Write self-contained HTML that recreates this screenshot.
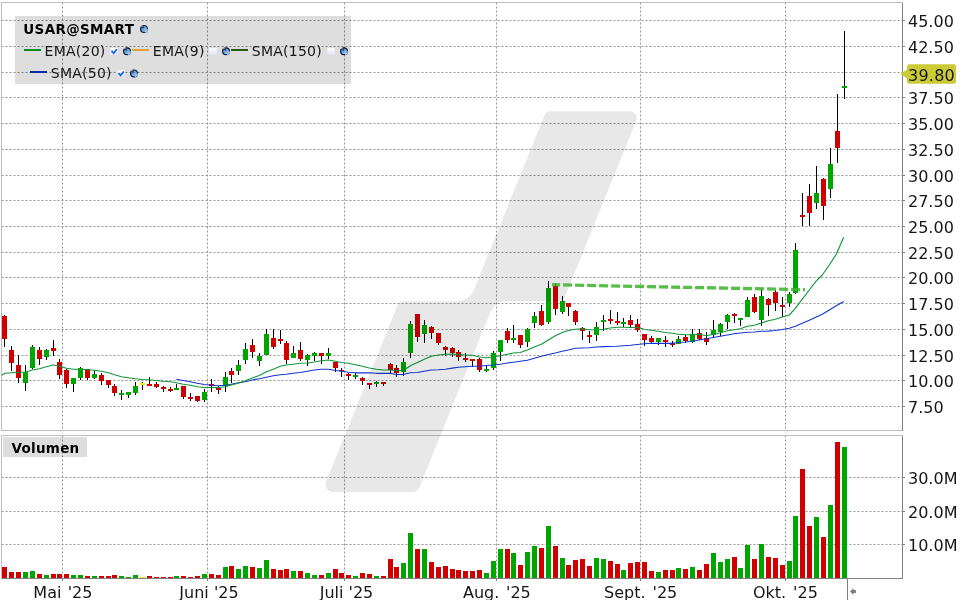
<!DOCTYPE html>
<html lang="de"><head><meta charset="utf-8"><title>USAR@SMART Chart</title>
<style>html,body{margin:0;padding:0;background:#fff;}body{width:960px;height:600px;overflow:hidden;}svg{display:block;will-change:transform;}text{font-family:"DejaVu Sans","Liberation Sans",sans-serif;fill:#161616;}.ax{font-size:16px;}.lg{font-size:14px;letter-spacing:0.25px;}.b{font-weight:bold;fill:#000;font-size:13.5px;letter-spacing:0.33px;}.g{stroke:#949494;stroke-width:1;stroke-dasharray:2 2;fill:none;}.c rect{shape-rendering:crispEdges;}</style></head><body>
<svg width="960" height="600" viewBox="0 0 960 600">
<defs><linearGradient id="cb" x1="0" y1="0" x2="0" y2="1"><stop offset="0" stop-color="#fdfdff"/><stop offset="1" stop-color="#e2e2f6"/></linearGradient><linearGradient id="wr" x1="0" y1="0" x2="1" y2="1"><stop offset="0" stop-color="#2c5c9c"/><stop offset="0.55" stop-color="#78aee0"/><stop offset="1" stop-color="#b8e0ff"/></linearGradient></defs>
<rect x="0" y="0" width="960" height="600" fill="#ffffff"/>
<g class="g">
<line x1="1.5" y1="20.5" x2="902" y2="20.5"/>
<line x1="1.5" y1="46.5" x2="902" y2="46.5"/>
<line x1="1.5" y1="72.5" x2="902" y2="72.5"/>
<line x1="1.5" y1="97.5" x2="902" y2="97.5"/>
<line x1="1.5" y1="123.5" x2="902" y2="123.5"/>
<line x1="1.5" y1="149.5" x2="902" y2="149.5"/>
<line x1="1.5" y1="175.5" x2="902" y2="175.5"/>
<line x1="1.5" y1="200.5" x2="902" y2="200.5"/>
<line x1="1.5" y1="226.5" x2="902" y2="226.5"/>
<line x1="1.5" y1="252.5" x2="902" y2="252.5"/>
<line x1="1.5" y1="277.5" x2="902" y2="277.5"/>
<line x1="1.5" y1="303.5" x2="902" y2="303.5"/>
<line x1="1.5" y1="329.5" x2="902" y2="329.5"/>
<line x1="1.5" y1="355.5" x2="902" y2="355.5"/>
<line x1="1.5" y1="380.5" x2="902" y2="380.5"/>
<line x1="1.5" y1="406.5" x2="902" y2="406.5"/>
<line x1="1.5" y1="477.5" x2="902" y2="477.5"/>
<line x1="1.5" y1="511.5" x2="902" y2="511.5"/>
<line x1="1.5" y1="544.5" x2="902" y2="544.5"/>
<line x1="62.5" y1="2.5" x2="62.5" y2="430"/>
<line x1="62.5" y1="435.5" x2="62.5" y2="578"/>
<line x1="207.5" y1="2.5" x2="207.5" y2="430"/>
<line x1="207.5" y1="435.5" x2="207.5" y2="578"/>
<line x1="344.5" y1="2.5" x2="344.5" y2="430"/>
<line x1="344.5" y1="435.5" x2="344.5" y2="578"/>
<line x1="496.5" y1="2.5" x2="496.5" y2="430"/>
<line x1="496.5" y1="435.5" x2="496.5" y2="578"/>
<line x1="640.5" y1="2.5" x2="640.5" y2="430"/>
<line x1="640.5" y1="435.5" x2="640.5" y2="578"/>
<line x1="785.5" y1="2.5" x2="785.5" y2="430"/>
<line x1="785.5" y1="435.5" x2="785.5" y2="578"/>
</g>
<g fill="none" shape-rendering="crispEdges" stroke-width="1">
<path d="M902.5 430.5H1.5V2.5H902.5" stroke="#bebebe"/>
<path d="M902.5 2.5V431" stroke="#808080"/>
<path d="M1.5 578.5V435.5H902.5" stroke="#bebebe"/>
<path d="M902.5 435.5V578.5H1.5" stroke="#808080"/>
<path d="M847.5 578.5V600" stroke="#808080"/>
<path d="M903 20.5h2M903 46.5h2M903 72.5h2M903 97.5h2M903 123.5h2M903 149.5h2M903 175.5h2M903 200.5h2M903 226.5h2M903 252.5h2M903 277.5h2M903 303.5h2M903 329.5h2M903 355.5h2M903 380.5h2M903 406.5h2M903 477.5h2M903 511.5h2M903 544.5h2M62.5 578.5v2.5M207.5 578.5v2.5M344.5 578.5v2.5M496.5 578.5v2.5M640.5 578.5v2.5M785.5 578.5v2.5" stroke="#808080"/>
</g>
<rect x="15" y="16" width="336" height="68" fill="rgba(0,0,0,0.13)"/>
<rect x="3" y="437" width="84" height="20" fill="rgba(0,0,0,0.13)"/>
<g class="c">
<rect x="2" y="567" width="5" height="11" fill="#d00000"/>
<rect x="9" y="572" width="5" height="6" fill="#d00000"/>
<rect x="16" y="572" width="5" height="6" fill="#d00000"/>
<rect x="23" y="572" width="5" height="6" fill="#00a600"/>
<rect x="30" y="571" width="5" height="7" fill="#00a600"/>
<rect x="37" y="574" width="5" height="4" fill="#d00000"/>
<rect x="44" y="575" width="5" height="3" fill="#00a600"/>
<rect x="51" y="574" width="5" height="4" fill="#d00000"/>
<rect x="57" y="574" width="5" height="4" fill="#d00000"/>
<rect x="64" y="574" width="5" height="4" fill="#d00000"/>
<rect x="71" y="575" width="5" height="3" fill="#00a600"/>
<rect x="78" y="575" width="5" height="3" fill="#00a600"/>
<rect x="85" y="576" width="5" height="2" fill="#d00000"/>
<rect x="92" y="576" width="5" height="2" fill="#00a600"/>
<rect x="99" y="576" width="5" height="2" fill="#d00000"/>
<rect x="106" y="576" width="5" height="2" fill="#d00000"/>
<rect x="112" y="575" width="5" height="3" fill="#d00000"/>
<rect x="119" y="576" width="5" height="2" fill="#00a600"/>
<rect x="126" y="577" width="5" height="1" fill="#00a600"/>
<rect x="133" y="575" width="5" height="3" fill="#00a600"/>
<rect x="140" y="577" width="5" height="1" fill="#ffee00"/>
<rect x="147" y="576" width="5" height="2" fill="#d00000"/>
<rect x="154" y="577" width="5" height="1" fill="#d00000"/>
<rect x="161" y="577" width="5" height="1" fill="#d00000"/>
<rect x="168" y="577" width="5" height="1" fill="#d00000"/>
<rect x="174" y="576" width="5" height="2" fill="#00a600"/>
<rect x="181" y="576" width="5" height="2" fill="#d00000"/>
<rect x="188" y="577" width="5" height="1" fill="#d00000"/>
<rect x="195" y="576" width="5" height="2" fill="#d00000"/>
<rect x="202" y="574" width="5" height="4" fill="#00a600"/>
<rect x="209" y="574" width="5" height="4" fill="#d00000"/>
<rect x="216" y="575" width="5" height="3" fill="#d00000"/>
<rect x="223" y="567" width="5" height="11" fill="#00a600"/>
<rect x="229" y="566" width="5" height="12" fill="#d00000"/>
<rect x="236" y="569" width="5" height="9" fill="#00a600"/>
<rect x="243" y="566" width="5" height="12" fill="#00a600"/>
<rect x="250" y="567" width="5" height="11" fill="#d00000"/>
<rect x="257" y="568" width="5" height="10" fill="#00a600"/>
<rect x="264" y="560" width="5" height="18" fill="#00a600"/>
<rect x="271" y="569" width="5" height="9" fill="#d00000"/>
<rect x="278" y="570" width="5" height="8" fill="#d00000"/>
<rect x="284" y="569" width="5" height="9" fill="#d00000"/>
<rect x="291" y="571" width="5" height="7" fill="#00a600"/>
<rect x="298" y="571" width="5" height="7" fill="#d00000"/>
<rect x="305" y="573" width="5" height="5" fill="#00a600"/>
<rect x="312" y="575" width="5" height="3" fill="#00a600"/>
<rect x="319" y="575" width="5" height="3" fill="#d00000"/>
<rect x="326" y="573" width="5" height="5" fill="#00a600"/>
<rect x="333" y="569" width="5" height="9" fill="#d00000"/>
<rect x="339" y="573" width="5" height="5" fill="#d00000"/>
<rect x="346" y="575" width="5" height="3" fill="#d00000"/>
<rect x="353" y="576" width="5" height="2" fill="#00a600"/>
<rect x="360" y="573" width="5" height="5" fill="#d00000"/>
<rect x="367" y="574" width="5" height="4" fill="#d00000"/>
<rect x="374" y="576" width="5" height="2" fill="#00a600"/>
<rect x="381" y="576" width="5" height="2" fill="#d00000"/>
<rect x="388" y="559" width="5" height="19" fill="#d00000"/>
<rect x="394" y="567" width="5" height="11" fill="#d00000"/>
<rect x="401" y="563" width="5" height="15" fill="#00a600"/>
<rect x="408" y="533" width="5" height="45" fill="#00a600"/>
<rect x="415" y="549" width="5" height="29" fill="#d00000"/>
<rect x="422" y="549" width="5" height="29" fill="#00a600"/>
<rect x="429" y="562" width="5" height="16" fill="#d00000"/>
<rect x="436" y="567" width="5" height="11" fill="#d00000"/>
<rect x="443" y="566" width="5" height="12" fill="#d00000"/>
<rect x="450" y="569" width="5" height="9" fill="#d00000"/>
<rect x="456" y="570" width="5" height="8" fill="#d00000"/>
<rect x="463" y="571" width="5" height="7" fill="#d00000"/>
<rect x="470" y="571" width="5" height="7" fill="#d00000"/>
<rect x="477" y="570" width="5" height="8" fill="#d00000"/>
<rect x="484" y="573" width="5" height="5" fill="#00a600"/>
<rect x="491" y="561" width="5" height="17" fill="#00a600"/>
<rect x="498" y="549" width="5" height="29" fill="#00a600"/>
<rect x="505" y="549" width="5" height="29" fill="#d00000"/>
<rect x="511" y="553" width="5" height="25" fill="#00a600"/>
<rect x="518" y="565" width="5" height="13" fill="#d00000"/>
<rect x="525" y="552" width="5" height="26" fill="#00a600"/>
<rect x="532" y="546" width="5" height="32" fill="#00a600"/>
<rect x="539" y="548" width="5" height="30" fill="#d00000"/>
<rect x="546" y="526" width="5" height="52" fill="#00a600"/>
<rect x="553" y="546" width="5" height="32" fill="#d00000"/>
<rect x="560" y="558" width="5" height="20" fill="#00a600"/>
<rect x="566" y="565" width="5" height="13" fill="#d00000"/>
<rect x="573" y="560" width="5" height="18" fill="#d00000"/>
<rect x="580" y="559" width="5" height="19" fill="#d00000"/>
<rect x="587" y="566" width="5" height="12" fill="#d00000"/>
<rect x="594" y="558" width="5" height="20" fill="#00a600"/>
<rect x="601" y="559" width="5" height="19" fill="#00a600"/>
<rect x="608" y="561" width="5" height="17" fill="#d00000"/>
<rect x="615" y="564" width="5" height="14" fill="#d00000"/>
<rect x="621" y="570" width="5" height="8" fill="#00a600"/>
<rect x="628" y="563" width="5" height="15" fill="#d00000"/>
<rect x="635" y="562" width="5" height="16" fill="#d00000"/>
<rect x="642" y="562" width="5" height="16" fill="#d00000"/>
<rect x="649" y="571" width="5" height="7" fill="#d00000"/>
<rect x="656" y="572" width="5" height="6" fill="#00a600"/>
<rect x="663" y="570" width="5" height="8" fill="#d00000"/>
<rect x="670" y="570" width="5" height="8" fill="#d00000"/>
<rect x="676" y="568" width="5" height="10" fill="#00a600"/>
<rect x="683" y="569" width="5" height="9" fill="#d00000"/>
<rect x="690" y="567" width="5" height="11" fill="#00a600"/>
<rect x="697" y="570" width="5" height="8" fill="#d00000"/>
<rect x="704" y="564" width="5" height="14" fill="#d00000"/>
<rect x="711" y="553" width="5" height="25" fill="#00a600"/>
<rect x="718" y="562" width="5" height="16" fill="#00a600"/>
<rect x="725" y="559" width="5" height="19" fill="#00a600"/>
<rect x="732" y="557" width="5" height="21" fill="#d00000"/>
<rect x="738" y="568" width="5" height="10" fill="#00a600"/>
<rect x="745" y="545" width="5" height="33" fill="#00a600"/>
<rect x="752" y="559" width="5" height="19" fill="#d00000"/>
<rect x="759" y="544" width="5" height="34" fill="#00a600"/>
<rect x="766" y="557" width="5" height="21" fill="#d00000"/>
<rect x="773" y="558" width="5" height="20" fill="#d00000"/>
<rect x="780" y="565" width="5" height="13" fill="#d00000"/>
<rect x="787" y="561" width="5" height="17" fill="#00a600"/>
<rect x="793" y="516" width="5" height="62" fill="#00a600"/>
<rect x="800" y="469" width="5" height="109" fill="#d00000"/>
<rect x="807" y="526" width="5" height="52" fill="#d00000"/>
<rect x="814" y="517" width="5" height="61" fill="#00a600"/>
<rect x="821" y="537" width="5" height="41" fill="#d00000"/>
<rect x="828" y="505" width="5" height="73" fill="#00a600"/>
<rect x="835" y="442" width="5" height="136" fill="#d00000"/>
<rect x="842" y="447" width="5" height="131" fill="#00a600"/>
</g>
<g class="c">
<rect x="4" y="315" width="1" height="32" fill="#000"/>
<rect x="2" y="316" width="5" height="23" fill="#d00000"/>
<rect x="11" y="346" width="1" height="25" fill="#000"/>
<rect x="9" y="350" width="5" height="13" fill="#d00000"/>
<rect x="18" y="355" width="1" height="28" fill="#000"/>
<rect x="16" y="365" width="5" height="13" fill="#d00000"/>
<rect x="25" y="365" width="1" height="26" fill="#000"/>
<rect x="23" y="372" width="5" height="11" fill="#00a600"/>
<rect x="32" y="345" width="1" height="24" fill="#000"/>
<rect x="30" y="347" width="5" height="21" fill="#00a600"/>
<rect x="39" y="347" width="1" height="18" fill="#000"/>
<rect x="37" y="350" width="5" height="9" fill="#d00000"/>
<rect x="46" y="349" width="1" height="11" fill="#000"/>
<rect x="44" y="350" width="5" height="7" fill="#00a600"/>
<rect x="53" y="340" width="1" height="16" fill="#000"/>
<rect x="51" y="348" width="5" height="3" fill="#d00000"/>
<rect x="59" y="359" width="1" height="20" fill="#000"/>
<rect x="57" y="362" width="5" height="13" fill="#d00000"/>
<rect x="66" y="369" width="1" height="19" fill="#000"/>
<rect x="64" y="370" width="5" height="14" fill="#d00000"/>
<rect x="73" y="378" width="1" height="14" fill="#000"/>
<rect x="71" y="378" width="5" height="6" fill="#00a600"/>
<rect x="80" y="367" width="1" height="13" fill="#000"/>
<rect x="78" y="368" width="5" height="10" fill="#00a600"/>
<rect x="87" y="369" width="1" height="11" fill="#000"/>
<rect x="85" y="369" width="5" height="9" fill="#d00000"/>
<rect x="94" y="371" width="1" height="8" fill="#000"/>
<rect x="92" y="374" width="5" height="4" fill="#00a600"/>
<rect x="101" y="373" width="1" height="12" fill="#000"/>
<rect x="99" y="375" width="5" height="6" fill="#d00000"/>
<rect x="108" y="380" width="1" height="8" fill="#000"/>
<rect x="106" y="380" width="5" height="5" fill="#d00000"/>
<rect x="114" y="384" width="1" height="12" fill="#000"/>
<rect x="112" y="386" width="5" height="7" fill="#d00000"/>
<rect x="121" y="390" width="1" height="10" fill="#000"/>
<rect x="119" y="393" width="5" height="2" fill="#00a600"/>
<rect x="128" y="392" width="1" height="6" fill="#000"/>
<rect x="126" y="392" width="5" height="3" fill="#00a600"/>
<rect x="135" y="382" width="1" height="13" fill="#000"/>
<rect x="133" y="386" width="5" height="7" fill="#00a600"/>
<rect x="142" y="382" width="1" height="8" fill="#000"/>
<rect x="140" y="383" width="5" height="2" fill="#ffee00"/>
<rect x="149" y="377" width="1" height="9" fill="#000"/>
<rect x="147" y="384" width="5" height="2" fill="#d00000"/>
<rect x="156" y="382" width="1" height="6" fill="#000"/>
<rect x="154" y="384" width="5" height="3" fill="#d00000"/>
<rect x="163" y="386" width="1" height="6" fill="#000"/>
<rect x="161" y="387" width="5" height="2" fill="#d00000"/>
<rect x="170" y="387" width="1" height="5" fill="#000"/>
<rect x="168" y="389" width="5" height="2" fill="#d00000"/>
<rect x="176" y="384" width="1" height="6" fill="#000"/>
<rect x="174" y="388" width="5" height="2" fill="#00a600"/>
<rect x="183" y="386" width="1" height="13" fill="#000"/>
<rect x="181" y="386" width="5" height="11" fill="#d00000"/>
<rect x="190" y="393" width="1" height="8" fill="#000"/>
<rect x="188" y="397" width="5" height="2" fill="#d00000"/>
<rect x="197" y="396" width="1" height="6" fill="#000"/>
<rect x="195" y="396" width="5" height="5" fill="#d00000"/>
<rect x="204" y="389" width="1" height="13" fill="#000"/>
<rect x="202" y="392" width="5" height="8" fill="#00a600"/>
<rect x="211" y="379" width="1" height="13" fill="#000"/>
<rect x="209" y="384" width="5" height="2" fill="#d00000"/>
<rect x="218" y="386" width="1" height="8" fill="#000"/>
<rect x="216" y="388" width="5" height="2" fill="#d00000"/>
<rect x="225" y="372" width="1" height="20" fill="#000"/>
<rect x="223" y="377" width="5" height="9" fill="#00a600"/>
<rect x="231" y="368" width="1" height="15" fill="#000"/>
<rect x="229" y="371" width="5" height="4" fill="#d00000"/>
<rect x="238" y="360" width="1" height="15" fill="#000"/>
<rect x="236" y="365" width="5" height="6" fill="#00a600"/>
<rect x="245" y="343" width="1" height="21" fill="#000"/>
<rect x="243" y="349" width="5" height="11" fill="#00a600"/>
<rect x="252" y="339" width="1" height="19" fill="#000"/>
<rect x="250" y="345" width="5" height="7" fill="#d00000"/>
<rect x="259" y="353" width="1" height="13" fill="#000"/>
<rect x="257" y="356" width="5" height="5" fill="#00a600"/>
<rect x="266" y="329" width="1" height="26" fill="#000"/>
<rect x="264" y="334" width="5" height="21" fill="#00a600"/>
<rect x="273" y="329" width="1" height="20" fill="#000"/>
<rect x="271" y="338" width="5" height="9" fill="#d00000"/>
<rect x="280" y="330" width="1" height="14" fill="#000"/>
<rect x="278" y="339" width="5" height="2" fill="#d00000"/>
<rect x="286" y="341" width="1" height="23" fill="#000"/>
<rect x="284" y="343" width="5" height="17" fill="#d00000"/>
<rect x="293" y="346" width="1" height="12" fill="#000"/>
<rect x="291" y="353" width="5" height="5" fill="#00a600"/>
<rect x="300" y="342" width="1" height="19" fill="#000"/>
<rect x="298" y="350" width="5" height="9" fill="#d00000"/>
<rect x="307" y="354" width="1" height="12" fill="#000"/>
<rect x="305" y="355" width="5" height="5" fill="#00a600"/>
<rect x="314" y="352" width="1" height="9" fill="#000"/>
<rect x="312" y="353" width="5" height="3" fill="#00a600"/>
<rect x="321" y="353" width="1" height="11" fill="#000"/>
<rect x="319" y="353" width="5" height="3" fill="#d00000"/>
<rect x="328" y="348" width="1" height="11" fill="#000"/>
<rect x="326" y="353" width="5" height="3" fill="#00a600"/>
<rect x="335" y="362" width="1" height="10" fill="#000"/>
<rect x="333" y="362" width="5" height="6" fill="#d00000"/>
<rect x="341" y="368" width="1" height="9" fill="#000"/>
<rect x="339" y="370" width="5" height="1" fill="#d00000"/>
<rect x="348" y="373" width="1" height="7" fill="#000"/>
<rect x="346" y="374" width="5" height="2" fill="#d00000"/>
<rect x="355" y="373" width="1" height="6" fill="#000"/>
<rect x="353" y="375" width="5" height="2" fill="#00a600"/>
<rect x="362" y="377" width="1" height="8" fill="#000"/>
<rect x="360" y="378" width="5" height="3" fill="#d00000"/>
<rect x="369" y="383" width="1" height="6" fill="#000"/>
<rect x="367" y="383" width="5" height="2" fill="#d00000"/>
<rect x="376" y="381" width="1" height="6" fill="#000"/>
<rect x="374" y="382" width="5" height="2" fill="#00a600"/>
<rect x="383" y="382" width="1" height="4" fill="#000"/>
<rect x="381" y="382" width="5" height="2" fill="#d00000"/>
<rect x="390" y="363" width="1" height="10" fill="#000"/>
<rect x="388" y="364" width="5" height="6" fill="#d00000"/>
<rect x="396" y="365" width="1" height="12" fill="#000"/>
<rect x="394" y="368" width="5" height="5" fill="#d00000"/>
<rect x="403" y="358" width="1" height="18" fill="#000"/>
<rect x="401" y="362" width="5" height="10" fill="#00a600"/>
<rect x="410" y="321" width="1" height="37" fill="#000"/>
<rect x="408" y="324" width="5" height="29" fill="#00a600"/>
<rect x="417" y="314" width="1" height="28" fill="#000"/>
<rect x="415" y="314" width="5" height="23" fill="#d00000"/>
<rect x="424" y="320" width="1" height="23" fill="#000"/>
<rect x="422" y="325" width="5" height="9" fill="#00a600"/>
<rect x="431" y="326" width="1" height="13" fill="#000"/>
<rect x="429" y="327" width="5" height="6" fill="#d00000"/>
<rect x="438" y="333" width="1" height="12" fill="#000"/>
<rect x="436" y="333" width="5" height="10" fill="#d00000"/>
<rect x="445" y="346" width="1" height="10" fill="#000"/>
<rect x="443" y="347" width="5" height="3" fill="#d00000"/>
<rect x="452" y="347" width="1" height="10" fill="#000"/>
<rect x="450" y="348" width="5" height="5" fill="#d00000"/>
<rect x="458" y="350" width="1" height="11" fill="#000"/>
<rect x="456" y="352" width="5" height="5" fill="#d00000"/>
<rect x="465" y="353" width="1" height="9" fill="#000"/>
<rect x="463" y="358" width="5" height="2" fill="#d00000"/>
<rect x="472" y="359" width="1" height="8" fill="#000"/>
<rect x="470" y="359" width="5" height="2" fill="#d00000"/>
<rect x="479" y="358" width="1" height="14" fill="#000"/>
<rect x="477" y="359" width="5" height="11" fill="#d00000"/>
<rect x="486" y="366" width="1" height="6" fill="#000"/>
<rect x="484" y="369" width="5" height="2" fill="#00a600"/>
<rect x="493" y="351" width="1" height="19" fill="#000"/>
<rect x="491" y="353" width="5" height="15" fill="#00a600"/>
<rect x="500" y="340" width="1" height="21" fill="#000"/>
<rect x="498" y="340" width="5" height="12" fill="#00a600"/>
<rect x="507" y="328" width="1" height="15" fill="#000"/>
<rect x="505" y="331" width="5" height="9" fill="#d00000"/>
<rect x="513" y="325" width="1" height="18" fill="#000"/>
<rect x="511" y="338" width="5" height="2" fill="#00a600"/>
<rect x="520" y="335" width="1" height="13" fill="#000"/>
<rect x="518" y="335" width="5" height="10" fill="#d00000"/>
<rect x="527" y="328" width="1" height="19" fill="#000"/>
<rect x="525" y="329" width="5" height="13" fill="#00a600"/>
<rect x="534" y="312" width="1" height="16" fill="#000"/>
<rect x="532" y="316" width="5" height="7" fill="#00a600"/>
<rect x="541" y="305" width="1" height="21" fill="#000"/>
<rect x="539" y="311" width="5" height="14" fill="#d00000"/>
<rect x="548" y="281" width="1" height="43" fill="#000"/>
<rect x="546" y="288" width="5" height="34" fill="#00a600"/>
<rect x="555" y="283" width="1" height="32" fill="#000"/>
<rect x="553" y="286" width="5" height="23" fill="#d00000"/>
<rect x="562" y="296" width="1" height="18" fill="#000"/>
<rect x="560" y="301" width="5" height="11" fill="#00a600"/>
<rect x="568" y="303" width="1" height="13" fill="#000"/>
<rect x="566" y="303" width="5" height="4" fill="#d00000"/>
<rect x="575" y="310" width="1" height="15" fill="#000"/>
<rect x="573" y="311" width="5" height="11" fill="#d00000"/>
<rect x="582" y="327" width="1" height="13" fill="#000"/>
<rect x="580" y="328" width="5" height="3" fill="#d00000"/>
<rect x="589" y="331" width="1" height="12" fill="#000"/>
<rect x="587" y="335" width="5" height="2" fill="#d00000"/>
<rect x="596" y="322" width="1" height="19" fill="#000"/>
<rect x="594" y="327" width="5" height="8" fill="#00a600"/>
<rect x="603" y="315" width="1" height="16" fill="#000"/>
<rect x="601" y="320" width="5" height="2" fill="#00a600"/>
<rect x="610" y="310" width="1" height="14" fill="#000"/>
<rect x="608" y="319" width="5" height="2" fill="#d00000"/>
<rect x="617" y="312" width="1" height="13" fill="#000"/>
<rect x="615" y="321" width="5" height="2" fill="#d00000"/>
<rect x="623" y="318" width="1" height="9" fill="#000"/>
<rect x="621" y="322" width="5" height="2" fill="#00a600"/>
<rect x="630" y="315" width="1" height="12" fill="#000"/>
<rect x="628" y="320" width="5" height="5" fill="#d00000"/>
<rect x="637" y="319" width="1" height="13" fill="#000"/>
<rect x="635" y="324" width="5" height="6" fill="#d00000"/>
<rect x="644" y="334" width="1" height="12" fill="#000"/>
<rect x="642" y="334" width="5" height="6" fill="#d00000"/>
<rect x="651" y="336" width="1" height="7" fill="#000"/>
<rect x="649" y="338" width="5" height="4" fill="#d00000"/>
<rect x="658" y="338" width="1" height="7" fill="#000"/>
<rect x="656" y="338" width="5" height="4" fill="#00a600"/>
<rect x="665" y="336" width="1" height="11" fill="#000"/>
<rect x="663" y="340" width="5" height="2" fill="#d00000"/>
<rect x="672" y="341" width="1" height="6" fill="#000"/>
<rect x="670" y="343" width="5" height="2" fill="#d00000"/>
<rect x="678" y="336" width="1" height="8" fill="#000"/>
<rect x="676" y="339" width="5" height="5" fill="#00a600"/>
<rect x="685" y="335" width="1" height="8" fill="#000"/>
<rect x="683" y="337" width="5" height="4" fill="#d00000"/>
<rect x="692" y="329" width="1" height="14" fill="#000"/>
<rect x="690" y="334" width="5" height="8" fill="#00a600"/>
<rect x="699" y="329" width="1" height="11" fill="#000"/>
<rect x="697" y="333" width="5" height="6" fill="#d00000"/>
<rect x="706" y="332" width="1" height="13" fill="#000"/>
<rect x="704" y="338" width="5" height="4" fill="#d00000"/>
<rect x="713" y="320" width="1" height="17" fill="#000"/>
<rect x="711" y="330" width="5" height="5" fill="#00a600"/>
<rect x="720" y="323" width="1" height="13" fill="#000"/>
<rect x="718" y="324" width="5" height="8" fill="#00a600"/>
<rect x="727" y="314" width="1" height="15" fill="#000"/>
<rect x="725" y="315" width="5" height="7" fill="#00a600"/>
<rect x="734" y="313" width="1" height="10" fill="#000"/>
<rect x="732" y="314" width="5" height="2" fill="#d00000"/>
<rect x="740" y="318" width="1" height="8" fill="#000"/>
<rect x="738" y="318" width="5" height="2" fill="#00a600"/>
<rect x="747" y="297" width="1" height="20" fill="#000"/>
<rect x="745" y="300" width="5" height="17" fill="#00a600"/>
<rect x="754" y="294" width="1" height="19" fill="#000"/>
<rect x="752" y="297" width="5" height="15" fill="#d00000"/>
<rect x="761" y="289" width="1" height="37" fill="#000"/>
<rect x="759" y="296" width="5" height="24" fill="#00a600"/>
<rect x="768" y="298" width="1" height="18" fill="#000"/>
<rect x="766" y="299" width="5" height="6" fill="#d00000"/>
<rect x="775" y="290" width="1" height="21" fill="#000"/>
<rect x="773" y="292" width="5" height="11" fill="#d00000"/>
<rect x="782" y="297" width="1" height="20" fill="#000"/>
<rect x="780" y="305" width="5" height="2" fill="#d00000"/>
<rect x="789" y="292" width="1" height="15" fill="#000"/>
<rect x="787" y="294" width="5" height="9" fill="#00a600"/>
<rect x="795" y="243" width="1" height="51" fill="#000"/>
<rect x="793" y="250" width="5" height="43" fill="#00a600"/>
<rect x="802" y="193" width="1" height="33" fill="#000"/>
<rect x="800" y="215" width="5" height="2" fill="#d00000"/>
<rect x="809" y="184" width="1" height="42" fill="#000"/>
<rect x="807" y="196" width="5" height="17" fill="#d00000"/>
<rect x="816" y="166" width="1" height="43" fill="#000"/>
<rect x="814" y="193" width="5" height="10" fill="#00a600"/>
<rect x="823" y="178" width="1" height="42" fill="#000"/>
<rect x="821" y="179" width="5" height="27" fill="#d00000"/>
<rect x="830" y="148" width="1" height="50" fill="#000"/>
<rect x="828" y="164" width="5" height="25" fill="#00a600"/>
<rect x="837" y="94" width="1" height="69" fill="#000"/>
<rect x="835" y="131" width="5" height="17" fill="#d00000"/>
<rect x="844" y="31" width="1" height="68" fill="#000"/>
<rect x="842" y="86" width="5" height="2" fill="#00a600"/>
</g>
<polyline fill="none" stroke="#1236d4" stroke-width="1.15" stroke-linejoin="round" points="176.3,379.2 183.3,380.5 190.3,381.7 197.3,383.3 204.3,384.5 211.3,385.3 218.3,385.8 225.3,385.3 231.3,384.2 238.3,382.8 245.3,381.7 252.3,380.0 259.3,378.7 266.3,377.2 273.3,375.8 280.3,374.7 286.3,374.3 293.3,373.3 300.3,372.5 307.3,371.3 314.3,370.0 321.3,369.2 328.3,369.2 335.3,370.5 341.3,371.3 348.3,372.2 355.3,372.8 362.3,372.8 369.3,372.8 376.3,373.3 383.3,373.3 390.3,373.3 396.3,374.5 403.3,374.5 410.3,372.8 417.3,372.5 424.3,371.3 431.3,370.0 438.3,369.7 445.3,369.2 452.3,368.1 458.3,367.2 465.3,366.7 472.3,366.2 479.3,366.2 486.3,365.5 493.3,365.0 500.3,364.2 507.3,363.0 513.3,362.2 520.3,361.3 527.3,360.3 534.3,358.3 541.3,356.2 548.3,354.5 555.3,353.0 562.3,351.3 568.3,350.0 575.3,348.3 582.3,348.0 589.3,347.8 596.3,347.0 603.3,346.6 616.7,346.3 630.3,345.3 644.3,343.8 651.3,343.3 665.3,343.3 672.3,343.3 678.3,342.5 685.3,342.0 692.3,341.3 699.3,340.0 706.3,338.8 713.3,337.5 720.3,336.3 727.3,335.0 734.3,333.8 740.3,333.0 747.3,332.2 754.3,332.0 761.3,331.3 768.3,331.1 775.3,330.5 782.3,329.5 789.3,328.3 795.3,326.3 802.3,323.3 809.3,320.3 816.3,317.0 822.3,314.2 829.3,310.0 836.3,305.8 843.7,301.5"/>
<polyline fill="none" stroke="#12963a" stroke-width="1.15" stroke-linejoin="round" points="1.7,375.3 5.0,373.3 18.3,372.2 25.3,372.2 32.3,370.0 39.3,368.7 46.3,366.7 53.3,365.0 59.5,366.3 66.5,368.3 73.5,369.2 80.5,369.2 87.5,369.7 94.5,370.3 101.5,371.3 108.5,372.8 114.5,374.7 121.5,376.7 128.3,377.8 135.3,378.8 142.3,379.5 149.3,379.7 156.3,380.5 163.3,381.3 170.3,381.7 176.3,382.8 183.3,384.2 190.3,385.3 197.3,386.7 204.3,387.5 211.3,387.5 218.3,387.5 225.3,386.7 231.3,385.0 238.3,383.3 245.3,380.8 252.3,378.0 259.3,375.5 266.3,371.7 273.3,369.2 280.3,366.3 286.3,365.0 293.3,364.2 300.3,363.3 307.3,363.0 314.3,362.0 321.3,360.8 328.3,360.0 335.3,361.3 341.3,362.5 348.3,363.3 355.3,364.7 362.3,366.3 369.3,368.0 376.3,369.2 383.3,370.0 390.3,370.0 396.3,370.5 403.3,370.5 410.3,365.8 417.3,362.5 424.3,359.2 431.3,356.2 438.3,355.0 445.3,354.2 452.3,354.0 458.3,354.6 465.3,355.0 472.3,355.3 479.3,357.0 486.3,357.8 493.3,357.0 500.3,355.8 507.3,354.2 513.3,353.0 520.3,352.5 527.3,350.0 534.3,347.0 541.3,344.2 548.3,340.0 555.3,335.8 562.3,332.5 568.3,330.5 575.3,329.2 582.3,328.8 589.3,329.7 596.3,330.0 603.3,329.2 610.3,328.0 617.3,327.2 623.3,327.2 630.3,327.5 637.3,327.5 644.3,329.2 651.3,330.3 658.3,331.3 665.3,332.5 672.3,333.3 678.3,334.2 685.3,334.7 692.3,334.7 699.3,334.2 706.3,335.8 713.3,334.2 720.3,332.8 727.3,330.8 734.3,329.7 740.3,328.8 747.3,326.3 754.3,325.2 761.3,323.0 768.3,320.8 775.3,319.2 782.3,317.0 789.3,315.0 795.3,308.3 802.3,299.2 809.3,290.0 816.3,280.8 822.3,275.0 829.3,265.0 836.3,254.2 843.7,237.2"/>
<path d="M544.4 115.6A7 7 0 0 1 550.9 111.2L629.8 111.2A7 7 0 0 1 636.3 120.8L565.0 296.8A7 7 0 0 1 558.5 301.2L506.3 301.2A17 17 0 0 0 490.6 311.8L419.4 487.6A7 7 0 0 1 412.9 492.0L333.0 492.0A7.5 7.5 0 0 1 326.1 481.7L397.4 305.6A7 7 0 0 1 403.9 301.2L457.8 301.2A17 17 0 0 0 473.6 290.6Z" fill="rgba(0,0,0,0.09)"/>
<line x1="552.1" y1="284.7" x2="805" y2="289.7" stroke="rgba(62,178,44,0.86)" stroke-width="3.3" stroke-dasharray="9 3" stroke-dashoffset="1"/>
<g class="ax">
<text x="908" y="27.0">45.00</text>
<text x="908" y="53.0">42.50</text>
<text x="908" y="104.0">37.50</text>
<text x="908" y="130.0">35.00</text>
<text x="908" y="156.0">32.50</text>
<text x="908" y="182.0">30.00</text>
<text x="908" y="207.0">27.50</text>
<text x="908" y="233.0">25.00</text>
<text x="908" y="259.0">22.50</text>
<text x="908" y="284.0">20.00</text>
<text x="908" y="310.0">17.50</text>
<text x="908" y="336.0">15.00</text>
<text x="908" y="362.0">12.50</text>
<text x="908" y="387.0">10.00</text>
<text x="908" y="413.0">7.50</text>
<text x="908" y="484.0">30.0M</text>
<text x="908" y="518.0">20.0M</text>
<text x="908" y="551.0">10.0M</text>
<text x="62.9" y="597.6" text-anchor="middle" style="word-spacing:1.2px">Mai '25</text>
<text x="209.0" y="597.6" text-anchor="middle" style="word-spacing:0.0px">Juni '25</text>
<text x="346.5" y="597.6" text-anchor="middle" style="word-spacing:0.0px">Juli '25</text>
<text x="496.9" y="597.6" text-anchor="middle" style="word-spacing:1.6px">Aug. '25</text>
<text x="640.7" y="597.6" text-anchor="middle" style="word-spacing:1.8px">Sept. '25</text>
<text x="785.4" y="597.6" text-anchor="middle" style="word-spacing:1.8px">Okt. '25</text>
</g>
<path d="M900.2 74L907 69.8V66.4Q907 64.2 909.2 64.2H953.8Q956 64.2 956 66.4V81.6Q956 83.8 953.8 83.8H909.2Q907 83.8 907 81.6V78.3Z" fill="#cbcb38"/>
<text class="ax" x="908.1" y="80.8" style="letter-spacing:0.2px">39.80</text>
<path d="M850 591.5L853.5 588V590H856V593H853.5V595Z" fill="#808080"/>
<text class="b" x="23.3" y="33.7">USAR@SMART</text>
<g transform="translate(140.0,24.7)"><path d="M5.4 5.4L8.4 8.3L4.4 8Z" fill="#aad6ff"/><circle cx="4" cy="4.2" r="3.4" fill="url(#wr)" stroke="#081a36" stroke-width="1.15"/><path d="M2.5 0.2L3.7 3.3L0.6 1.8Z" fill="#d6d8e4"/><path d="M2.6 0.9L3.6 3.2L1.2 2" fill="none" stroke="#081a36" stroke-width="0.8"/><path d="M4.9 7.5A3.4 3.4 0 0 0 7.4 4.4" fill="none" stroke="#a2cef8" stroke-width="1.3"/></g>
<line x1="24" y1="50" x2="41" y2="50" stroke="#0a8a28" stroke-width="2"/>
<text class="lg" x="44.6" y="56.3">EMA(20)</text>
<rect x="110.4" y="48.0" width="7.4" height="7" fill="url(#cb)"/><path d="M111.5 50.9l2.2 2.3l3.2 -3.9" stroke="#1464e0" stroke-width="1.8" fill="none"/>
<g transform="translate(123.0,47.0)"><path d="M5.4 5.4L8.4 8.3L4.4 8Z" fill="#aad6ff"/><circle cx="4" cy="4.2" r="3.4" fill="url(#wr)" stroke="#081a36" stroke-width="1.15"/><path d="M2.5 0.2L3.7 3.3L0.6 1.8Z" fill="#d6d8e4"/><path d="M2.6 0.9L3.6 3.2L1.2 2" fill="none" stroke="#081a36" stroke-width="0.8"/><path d="M4.9 7.5A3.4 3.4 0 0 0 7.4 4.4" fill="none" stroke="#a2cef8" stroke-width="1.3"/></g>
<line x1="132" y1="50" x2="149" y2="50" stroke="#e0a238" stroke-width="2"/>
<text class="lg" x="152.8" y="56.3">EMA(9)</text>
<rect x="209.2" y="48.0" width="7.4" height="7" fill="url(#cb)"/>
<g transform="translate(222.0,47.0)"><path d="M5.4 5.4L8.4 8.3L4.4 8Z" fill="#aad6ff"/><circle cx="4" cy="4.2" r="3.4" fill="url(#wr)" stroke="#081a36" stroke-width="1.15"/><path d="M2.5 0.2L3.7 3.3L0.6 1.8Z" fill="#d6d8e4"/><path d="M2.6 0.9L3.6 3.2L1.2 2" fill="none" stroke="#081a36" stroke-width="0.8"/><path d="M4.9 7.5A3.4 3.4 0 0 0 7.4 4.4" fill="none" stroke="#a2cef8" stroke-width="1.3"/></g>
<line x1="231" y1="50" x2="248" y2="50" stroke="#2c5a08" stroke-width="2"/>
<text class="lg" x="251.8" y="56.3">SMA(150)</text>
<rect x="327.2" y="48.0" width="7.4" height="7" fill="url(#cb)"/>
<g transform="translate(340.0,47.0)"><path d="M5.4 5.4L8.4 8.3L4.4 8Z" fill="#aad6ff"/><circle cx="4" cy="4.2" r="3.4" fill="url(#wr)" stroke="#081a36" stroke-width="1.15"/><path d="M2.5 0.2L3.7 3.3L0.6 1.8Z" fill="#d6d8e4"/><path d="M2.6 0.9L3.6 3.2L1.2 2" fill="none" stroke="#081a36" stroke-width="0.8"/><path d="M4.9 7.5A3.4 3.4 0 0 0 7.4 4.4" fill="none" stroke="#a2cef8" stroke-width="1.3"/></g>
<line x1="30" y1="72" x2="47" y2="72" stroke="#0a28b4" stroke-width="2"/>
<text class="lg" x="50.8" y="78">SMA(50)</text>
<rect x="117.3" y="70.2" width="7.4" height="7" fill="url(#cb)"/><path d="M118.4 73.1l2.2 2.3l3.2 -3.9" stroke="#1464e0" stroke-width="1.8" fill="none"/>
<g transform="translate(130.0,69.2)"><path d="M5.4 5.4L8.4 8.3L4.4 8Z" fill="#aad6ff"/><circle cx="4" cy="4.2" r="3.4" fill="url(#wr)" stroke="#081a36" stroke-width="1.15"/><path d="M2.5 0.2L3.7 3.3L0.6 1.8Z" fill="#d6d8e4"/><path d="M2.6 0.9L3.6 3.2L1.2 2" fill="none" stroke="#081a36" stroke-width="0.8"/><path d="M4.9 7.5A3.4 3.4 0 0 0 7.4 4.4" fill="none" stroke="#a2cef8" stroke-width="1.3"/></g>
<text class="b" x="11.6" y="452.8" style="letter-spacing:0.25px">Volumen</text>
</svg></body></html>
